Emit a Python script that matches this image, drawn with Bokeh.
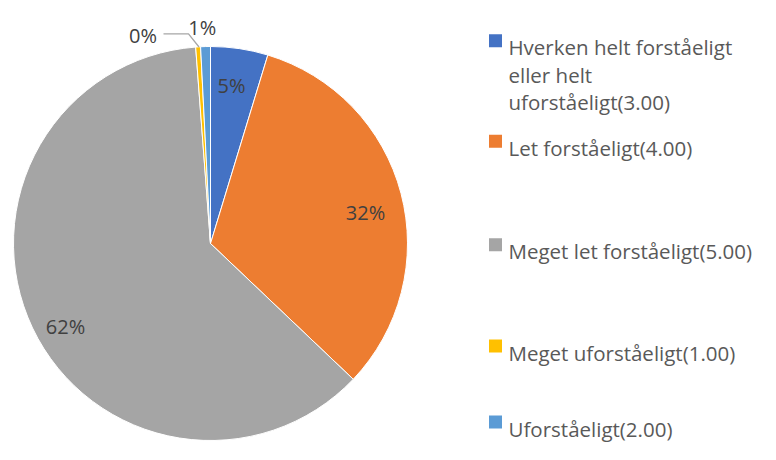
import math
from bokeh.plotting import figure
from bokeh.models import Range1d, ColumnDataSource
from bokeh.core.properties import value
from bokeh.embed import file_html
from bokeh.resources import INLINE

# ---- data ----
categories = [
    "Hverken helt forståeligt eller helt uforståeligt(3.00)",
    "Let forståeligt(4.00)",
    "Meget let forståeligt(5.00)",
    "Meget uforståeligt(1.00)",
    "Uforståeligt(2.00)",
]
legend_lines = [
    ["Hverken helt forståeligt", "eller helt", "uforståeligt(3.00)"],
    ["Let forståeligt(4.00)"],
    ["Meget let forståeligt(5.00)"],
    ["Meget uforståeligt(1.00)"],
    ["Uforståeligt(2.00)"],
]
shares = [4.7, 32.4, 61.7, 0.4, 0.8]
pct_labels = ["5%", "32%", "62%", "0%", "1%"]
colors = ["#4472C4", "#ED7D31", "#A5A5A5", "#FFC000", "#5B9BD5"]

# ---- layout (picture pixel coords; data y = H - picture y) ----
W, H = 760, 444
cx, cy, r = 210, 243, 197
label_pos = [(231, 85), (365, 211.7), (65, 326), (142.5, 35), (201.7, 26.7)]
legend_baselines = [46.7, 147.3, 250.7, 352, 428]
legend_line_gap = 27.5
sq_x, sq_size = 495, 13
text_x = 508

p = figure(width=W, height=H, output_backend="svg", toolbar_location=None,
           x_range=Range1d(0, W), y_range=Range1d(0, H),
           min_border=0, outline_line_color=None)
p.axis.visible = False
p.grid.visible = False
p.background_fill_color = "white"
p.border_fill_color = "white"

total = sum(shares)
starts, ends = [], []
cum = 0.0
for s in shares:
    starts.append(math.pi / 2 - 2 * math.pi * cum / total)
    cum += s
    ends.append(math.pi / 2 - 2 * math.pi * cum / total)

src = ColumnDataSource(dict(start=starts, end=ends, color=colors, cat=categories))
p.wedge(x=cx, y=H - cy, radius=r, start_angle="start", end_angle="end",
        direction="clock", fill_color="color", line_color="white", line_width=1,
        source=src)

# leader line for 0%
p.line(x=[163, 188, 198.5], y=[H - 33.3, H - 33.3, H - 46.5],
       line_color="#A6A6A6", line_width=1.3)

# data labels
p.text(x=[xy[0] for xy in label_pos], y=[H - xy[1] for xy in label_pos],
       text=pct_labels, text_font=value("Open Sans"), text_font_size="20px",
       text_color="#404040", text_align="center", text_baseline="alphabetic")

# legend
tx, ty, tt = [], [], []
for lines, b in zip(legend_lines, legend_baselines):
    for i, ln in enumerate(lines):
        tx.append(text_x)
        ty.append(H - (b + i * legend_line_gap))
        tt.append(ln)
p.rect(x=[sq_x] * len(colors), y=[H - (b - sq_size / 2) for b in legend_baselines],
       width=sq_size, height=sq_size, fill_color=colors, line_color=None)
p.text(x=tx, y=ty, text=tt, text_font=value("Open Sans"), text_font_size="20.5px",
       text_color="#595959", text_align="left", text_baseline="alphabetic")

open("out.html", "w").write(file_html(p, INLINE))
